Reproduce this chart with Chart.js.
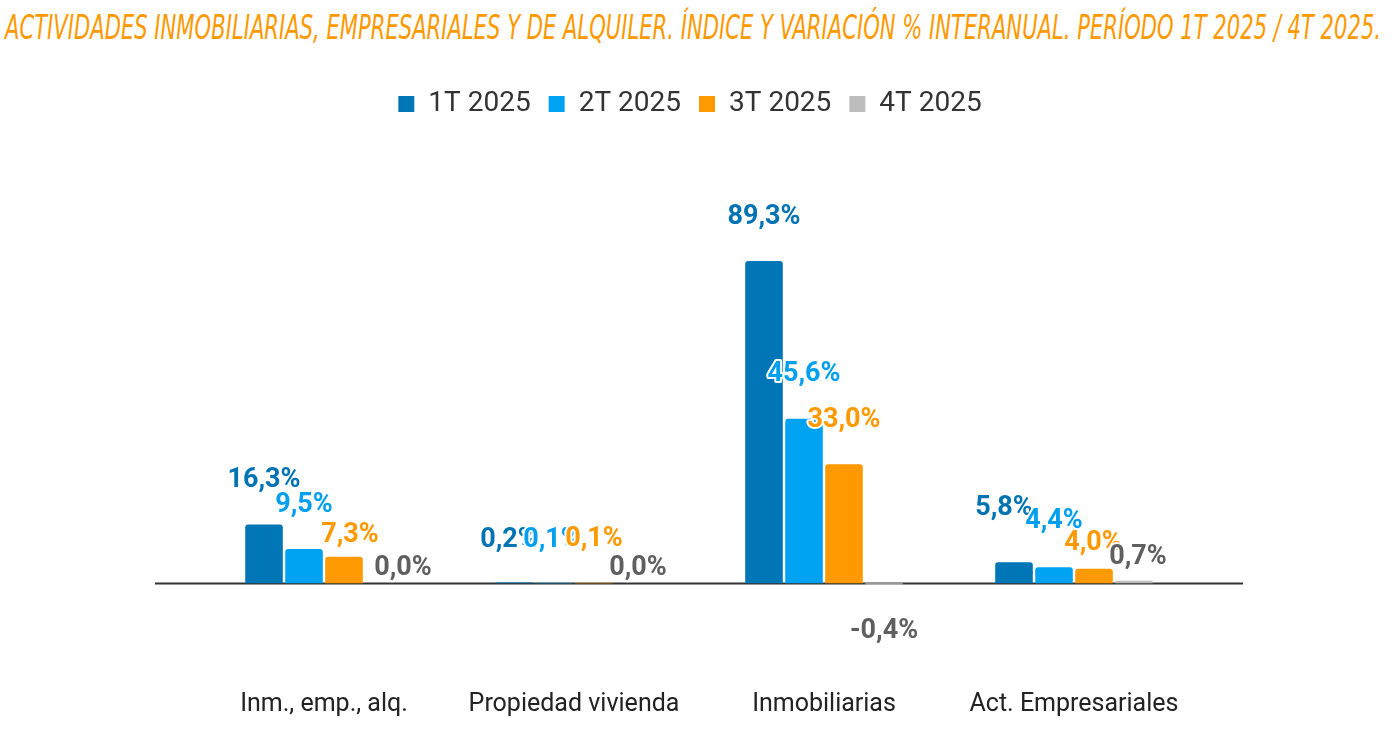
<!DOCTYPE html>
<html>
<head>
<meta charset="utf-8">
<script src="https://cdn.jsdelivr.net/npm/chart.js@4.4.1/dist/chart.umd.min.js"></script>
<style>
  html, body { margin: 0; padding: 0; background: #fff; }
  #wrap { position: relative; width: 1400px; height: 729px; }
  #title {
    position: absolute; left: 5px; top: 8px; white-space: nowrap;
    font-family: "Liberation Sans Narrow", "DejaVu Sans Condensed", "Roboto", sans-serif;
    font-style: italic; font-size: 33px; color: #FF9900; transform-origin: 0 0;
  }
  canvas { position: absolute; left: 0; top: 0; }
</style>
</head>
<body>
<div id="wrap">
  <div id="title">ACTIVIDADES INMOBILIARIAS, EMPRESARIALES Y DE ALQUILER. ÍNDICE Y VARIACIÓN % INTERANUAL. PERÍODO 1T 2025 / 4T 2025.</div>
  <canvas id="chart" width="1400" height="729"></canvas>
</div>
<script>
// data
const categories = ["Inm., emp., alq.", "Propiedad vivienda", "Inmobiliarias", "Act. Empresariales"];
const seriesNames = ["1T 2025", "2T 2025", "3T 2025", "4T 2025"];
const t1 = [16.3, 0.2, 89.3, 5.8];
const t2 = [9.5, 0.1, 45.6, 4.4];
const t3 = [7.3, 0.1, 33.0, 4.0];
const t4 = [0.0, 0.0, -0.4, 0.7];

const barColors = ["#0076B6", "#00A3F2", "#FF9900", "#BDBDBD"];
const labelColors = ["#0074B3", "#00A0EE", "#FF9900", "#5F5F5F"];

// stretch the title to the page width
const title = document.getElementById("title");
title.style.transform = "scaleX(" + (1376 / title.scrollWidth) + ")";

// small nudges so labels don't sit on top of each other [dx, dy]
const labelNudge = {
  "0-1": [-5, 2], "0-3": [-10, -10],
  "1-1": [-2, 1], "1-3": [0, -2],
  "2-0": [6, 22], "2-3": [-1, 18],
  "3-0": [19, 0], "3-1": [4, 0], "3-3": [4, -8]
};

const zeroLine = {
  id: "zeroLine",
  beforeDatasetsDraw(chart) {
    const { ctx, chartArea } = chart;
    const y = Math.round(chart.scales.y.getPixelForValue(0)) + 0.5;
    ctx.save();
    ctx.strokeStyle = "#333333";
    ctx.lineWidth = 2;
    ctx.beginPath();
    ctx.moveTo(chartArea.left - 44, y);
    ctx.lineTo(chartArea.right + 44, y);
    ctx.stroke();
    ctx.restore();
  }
};

// legend sits a bit left of the plot centre in the original
const legendShift = {
  id: "legendShift",
  afterLayout(chart) {
    chart.legend.left -= 9;
    chart.legend.right -= 9;
  }
};

const valueLabels = {
  id: "valueLabels",
  afterDatasetsDraw(chart) {
    const ctx = chart.ctx;
    ctx.save();
    ctx.font = "bold 27px Roboto";
    ctx.textAlign = "center";
    ctx.textBaseline = "middle";
    ctx.lineJoin = "round";
    chart.data.datasets.forEach((ds, di) => {
      const meta = chart.getDatasetMeta(di);
      meta.data.forEach((bar, i) => {
        const v = ds.data[i];
        const n = labelNudge[di + "-" + i] || [0, 0];
        const zeroGray = di === 3 && v >= 0;
        let y = v < 0 ? bar.y + 47 : bar.y - (zeroGray ? 15 : 44);
        const x = bar.x + n[0];
        y += n[1];
        const txt = v.toFixed(1).replace(".", ",") + "%";
        ctx.strokeStyle = "#ffffff";
        ctx.lineWidth = 4;
        ctx.strokeText(txt, x, y);
        ctx.fillStyle = labelColors[di];
        ctx.fillText(txt, x, y);
      });
    });
    ctx.restore();
  }
};

new Chart(document.getElementById("chart"), {
  type: "bar",
  data: {
    labels: categories,
    datasets: [t1, t2, t3, t4].map((d, i) => ({
      label: seriesNames[i],
      data: d,
      backgroundColor: barColors[i],
      borderRadius: 3,
      categoryPercentage: 0.64,
      barPercentage: 0.94
    }))
  },
  options: {
    responsive: false,
    animation: false,
    layout: { padding: { top: 72, left: 199, right: 201, bottom: 0 } },
    plugins: {
      tooltip: { enabled: false },
      legend: {
        position: "top",
        labels: {
          boxWidth: 16,
          boxHeight: 16,
          padding: 18,
          color: "#333333",
          font: { family: "Roboto", size: 28 }
        }
      }
    },
    scales: {
      x: {
        grid: { display: false, drawTicks: false },
        border: { display: false },
        ticks: { padding: 8.85, color: "#222222", font: { family: "Roboto", size: 25 } }
      },
      y: {
        display: false,
        min: -27.2,
        max: 126.2
      }
    }
  },
  plugins: [zeroLine, legendShift, valueLabels]
});
</script>
</body>
</html>
